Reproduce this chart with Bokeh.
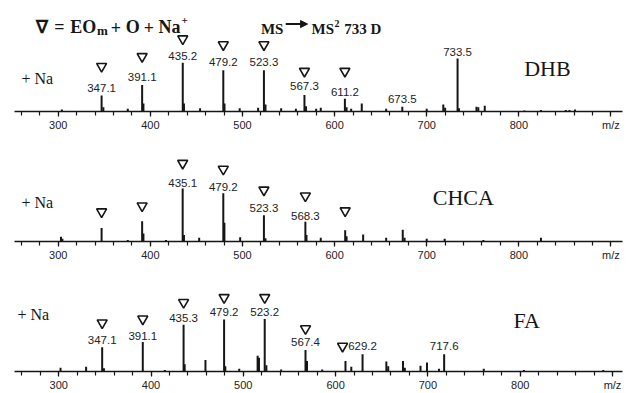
from bokeh.plotting import figure
from bokeh.layouts import column
from bokeh.models import Range1d, SingleIntervalTicker, Arrow, NormalHead
from bokeh.core.properties import value
from bokeh.embed import file_html
from bokeh.resources import INLINE

# ---------------- data (relative intensity, % of base peak) ----------------
dhb_mz = [304, 347.1, 349, 375.5, 391.1, 392.5, 435.2, 436.5, 454, 479.2, 480.5, 497,
          517, 523.3, 525, 542, 558, 567.3, 569, 580, 585, 611.2, 613, 618, 629.5, 656,
          673.5, 700, 718, 720, 733.5, 735, 754, 756, 763, 806, 824, 851, 855, 861]
dhb_int = [4, 30, 8, 5, 50, 15, 92, 15, 6, 78, 15, 6,
           7, 78, 13, 6, 5, 31, 10, 5, 7, 24, 8, 5, 15, 5,
           9, 5, 13, 7, 100, 6, 9, 8, 11, 2, 3, 3, 3, 4]

chca_mz = [303, 304.5, 347.1, 375.5, 391.1, 392.5, 417, 435.1, 436.5, 453, 479.2, 480.4,
           497.5, 523.3, 525, 568.3, 569.5, 585, 611.5, 613, 631, 656, 674, 676, 700,
           719.5, 761.5, 824]
chca_int = [9, 5, 25, 3, 38, 15, 3, 99, 12, 7, 90, 35,
            8, 49, 6, 37, 12, 7, 21, 10, 13, 7, 22, 7, 5,
            5, 3, 7]

fa_mz = [302, 329.7, 347.1, 349, 391.1, 415, 435.3, 436.5, 459, 479.2, 480.5, 495.6,
         515.5, 517, 523.2, 525, 541, 567.4, 569, 585.5, 610.7, 617, 629.2, 655, 657,
         673, 675, 692, 699, 712, 717.6, 760.5, 804, 890]
fa_int = [7, 9, 46, 6, 56, 3, 89, 14, 22, 99, 10, 5,
          30, 26, 100, 12, 4, 41, 20, 4, 20, 9, 33, 19, 10,
          20, 7, 11, 17, 5, 33, 5, 3, 3]

dhb_labels = ["347.1", "391.1", "435.2", "479.2", "523.3", "567.3", "611.2", "673.5", "733.5"]
dhb_label_mz = [347.1, 391.1, 435.2, 479.2, 523.3, 567.3, 611.2, 673.5, 733.5]
dhb_tri_mz = [347.1, 391.1, 435.2, 479.2, 523.3, 567.3, 611.2]

chca_labels = ["435.1", "479.2", "523.3", "568.3"]
chca_label_mz = [435.1, 479.2, 523.3, 568.3]
chca_tri_mz = [347.1, 391.1, 435.1, 479.2, 523.3, 568.3, 611.5]

fa_labels = ["347.1", "391.1", "435.3", "479.2", "523.2", "567.4", "629.2", "717.6"]
fa_label_mz = [347.1, 391.1, 435.3, 479.2, 523.2, 567.4, 629.2, 717.6]
fa_tri_mz = [347.1, 391.1, 435.3, 479.2, 523.2, 567.4, 629.2]

matrix_names = ["DHB", "CHCA", "FA"]
tick_overrides = {900: "m/z"}

# ---------------- layout (pixels) ----------------
W = 630
PX100 = 54.0  # pixel height of a 100 % peak
SERIF = "Liberation Serif"
SANS = "Liberation Sans"
INK = "#161616"

panels = [
    dict(mz=dhb_mz, it=dhb_int, lab=dhb_labels, lab_mz=dhb_label_mz, tri=dhb_tri_mz,
         name=matrix_names[0], height=133, bottom=20, left=10, right=8, x300=54.0, scale=0.9273,
         lab_px=[24, 35, 57, 50, 50, 26, 20, 13, 61],
         tri_px=[46, 56, 74, 68, 68, 41, 41], tri_dx=[0, 0, 0, 0, 0, 0, 0],
         na=(17, 34), name_pos=(523, 44)),
    dict(mz=chca_mz, it=chca_int, lab=chca_labels, lab_mz=chca_label_mz, tri=chca_tri_mz,
         name=matrix_names[1], height=130, bottom=21, left=10, right=8, x300=54.0, scale=0.9273,
         lab_px=[59, 55, 34, 26],
         tri_px=[30, 36, 79, 73, 52, 46, 31], tri_dx=[0, 0, 0, 0, 0, 0, 0],
         na=(17, 39), name_pos=(431, 44)),
    dict(mz=fa_mz, it=fa_int, lab=fa_labels, lab_mz=fa_label_mz, tri=fa_tri_mz,
         name=matrix_names[2], height=130, bottom=19, left=14, right=8, x300=58.2, scale=0.923,
         lab_px=[32, 36, 55, 61, 61, 30, 26, 26],
         tri_px=[50, 54, 71, 76, 76, 44, 26], tri_dx=[0, 0, 0, 0, 0, 0, -20],
         na=(17, 59), name_pos=(513, 52)),
]

figs = []
for i, pn in enumerate(panels):
    fw = W - pn["left"] - pn["right"]
    fh = pn["height"] - pn["bottom"]
    x0 = 300 - (pn["x300"] - pn["left"]) / pn["scale"]
    x1 = x0 + fw / pn["scale"]
    ytop = fh / PX100 * 100

    def XD(px, pn=pn, x0=x0):
        return x0 + (px - pn["left"]) / pn["scale"]

    def YD(px_above):
        return px_above / PX100 * 100

    p = figure(width=W, height=pn["height"], x_range=Range1d(x0, x1), y_range=Range1d(0, ytop),
               output_backend="svg", toolbar_location=None, y_axis_location=None,
               min_border_left=pn["left"], min_border_right=pn["right"],
               min_border_top=0, min_border_bottom=pn["bottom"])
    p.outline_line_color = None
    p.xgrid.visible = False
    p.ygrid.visible = False
    p.background_fill_color = "white"
    p.border_fill_color = "white"

    ax = p.xaxis[0]
    ax.ticker = SingleIntervalTicker(interval=100, num_minor_ticks=5)
    ax.major_label_overrides = tick_overrides
    ax.axis_line_color = INK
    ax.axis_line_width = 1.4
    ax.major_tick_line_color = INK
    ax.minor_tick_line_color = INK
    ax.major_tick_line_width = 1.2
    ax.minor_tick_line_width = 1.2
    ax.major_tick_in = 0
    ax.minor_tick_in = 0
    ax.major_tick_out = 5
    ax.minor_tick_out = 4
    ax.major_label_standoff = 2
    ax.major_label_text_font = SANS
    ax.major_label_text_font_size = "11px"
    ax.major_label_text_color = "#222222"

    # peaks
    p.segment(x0=pn["mz"], y0=[0] * len(pn["mz"]), x1=pn["mz"], y1=pn["it"],
              line_color=INK, line_width=2)

    # peak labels
    p.text(x=pn["lab_mz"], y=[YD(v) for v in pn["lab_px"]], text=pn["lab"],
           text_font=value(SANS), text_font_size="11.5px", text_color="#222222",
           text_align="center", text_baseline="middle")

    # triangles (EO_m + O + Na+ series)
    p.scatter(x=[m + dx / pn["scale"] for m, dx in zip(pn["tri"], pn["tri_dx"])],
              y=[YD(v) for v in pn["tri_px"]], marker="inverted_triangle", size=10,
              fill_color=None, line_color=INK, line_width=1.6)

    # "+ Na"
    p.text(x=[XD(pn["na"][0])], y=[YD(pn["na"][1])], text=["+ Na"],
           text_font=value(SERIF), text_font_size="16px", text_color=INK,
           text_align="left", text_baseline="alphabetic")
    # matrix name
    p.text(x=[XD(pn["name_pos"][0])], y=[YD(pn["name_pos"][1])], text=[pn["name"]],
           text_font=value(SERIF), text_font_size="22px", text_color=INK,
           text_align="left", text_baseline="alphabetic")

    if i == 0:
        axis_px = fh

        def YP(py):
            return YD(axis_px - py)

        # legend formula:  ∇ = EO_m + O + Na+
        big = [("∇", 32, 27), ("=", 50, 27), ("EO", 66, 27), ("+", 107, 27),
               ("O", 122, 27), ("+", 140, 27), ("Na", 155, 27)]
        p.text(x=[XD(a) for _, a, _ in big], y=[YP(b) for _, _, b in big],
               text=[t for t, _, _ in big], text_font=value(SERIF), text_font_size="18px",
               text_font_style="bold", text_color=INK, text_align="left",
               text_baseline="alphabetic")
        p.text(x=[XD(93)], y=[YP(31)], text=["m"], text_font=value(SERIF),
               text_font_size="13px", text_font_style="bold", text_color=INK,
               text_align="left", text_baseline="alphabetic")
        p.text(x=[XD(178)], y=[YP(20)], text=["+"], text_font=value(SERIF),
               text_font_size="11px", text_font_style="bold", text_color=INK,
               text_align="left", text_baseline="alphabetic")
        # MS -> MS2 733 D
        p.text(x=[XD(258), XD(309), XD(342)], y=[YP(29)] * 3, text=["MS", "MS", "733 D"],
               text_font=value(SERIF), text_font_size="15px", text_font_style="bold",
               text_color=INK, text_align="left", text_baseline="alphabetic")
        p.text(x=[XD(332)], y=[YP(23)], text=["2"], text_font=value(SERIF),
               text_font_size="10px", text_font_style="bold", text_color=INK,
               text_align="left", text_baseline="alphabetic")
        p.add_layout(Arrow(end=NormalHead(size=7, fill_color=INK, line_color=INK),
                           x_start=XD(283), y_start=YP(24), x_end=XD(305), y_end=YP(24),
                           line_color=INK, line_width=2))

    figs.append(p)

layout = column(*figs, spacing=0)
open("out.html", "w").write(file_html(layout, INLINE))
